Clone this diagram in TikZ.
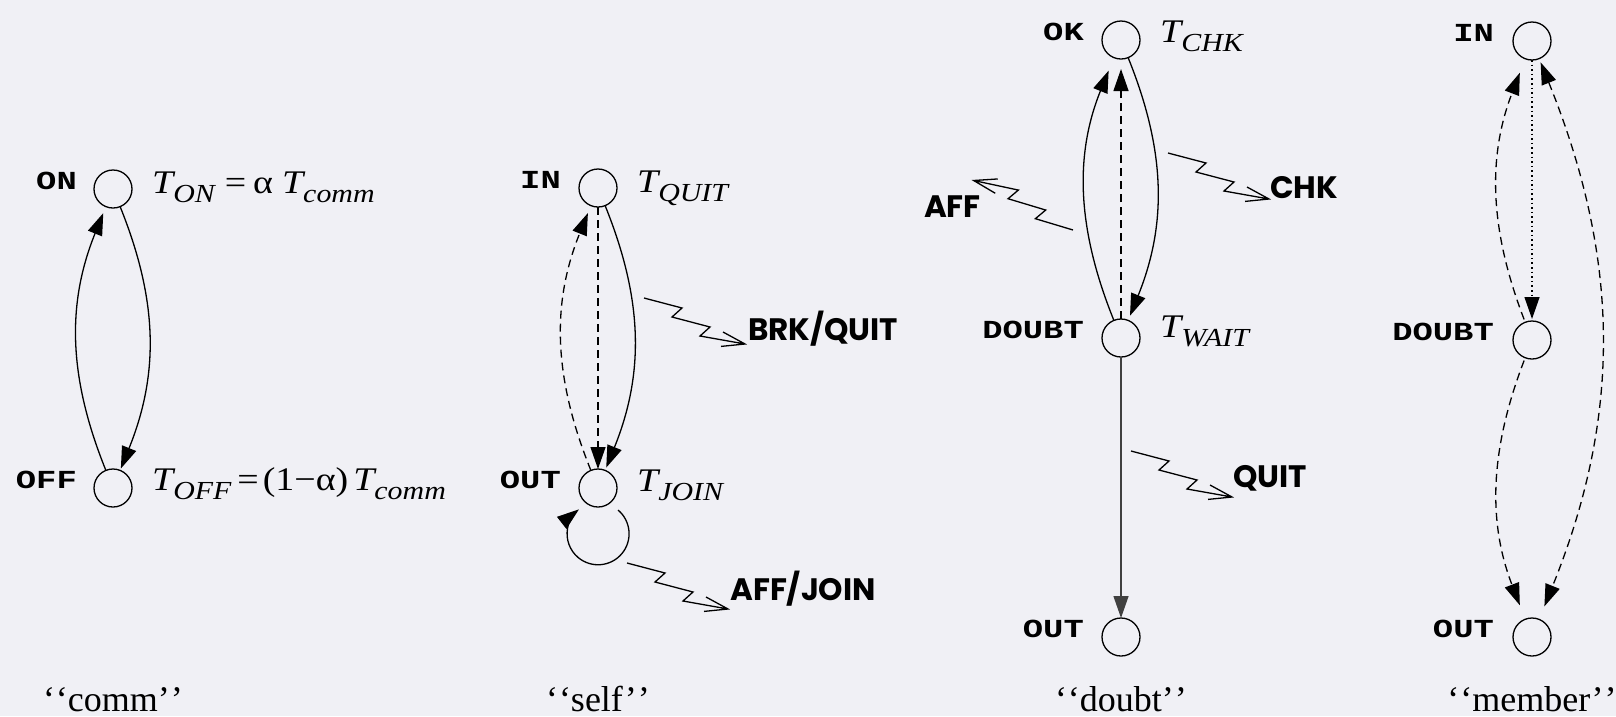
\documentclass[tikz,border=0pt]{standalone}
\usepackage{fontspec}
\setmainfont{Liberation Serif}
\newfontfamily\tsf[FakeStretch=1.15]{Liberation Serif}
\newfontfamily\monob[FakeStretch=1.3]{Liberation Mono}
\newfontfamily\geo{Poppins}
\usetikzlibrary{arrows.meta,calc}
\definecolor{bg}{RGB}{240,240,245}
\newcommand\sbx[1]{\raisebox{-9pt}{\fontsize{26}{26}\selectfont\itshape #1}}
\newcommand\zigzag[2]{\draw[zz, shift={(#1)}, rotate=#2] (0,0) -- (38,-10) -- (28,-19) -- (66,-29) -- (56,-38) -- (101,-46) (79,-34) -- (101,-46) -- (77,-48.4);}
\tikzset{
  state/.style={circle, draw, line width=1.3pt, minimum size=38pt, inner sep=0pt, outer sep=0pt},
  edge/.style={line width=1.3pt, -{Triangle[length=22pt,width=15pt]}},
  dedge/.style={line width=1.3pt, {Triangle[length=22pt,width=15pt]}-{Triangle[length=22pt,width=15pt]}},
  dsh/.style={dash pattern=on 8pt off 5pt},
  dtt/.style={dash pattern=on 1.6pt off 3pt},
  zz/.style={line width=1.3pt, line join=miter},
  lbl/.style={anchor=base east, inner sep=0pt, font=\monob\bfseries\fontsize{26}{26}\selectfont},
  tl/.style={anchor=base west, inner sep=0pt, font=\tsf\fontsize{33}{33}\selectfont},
  gl/.style={inner sep=0pt, font=\geo\bfseries\fontsize{31}{31}\selectfont},
  captxt/.style={anchor=base, inner sep=0pt, text depth=0pt, font=\fontsize{36}{36}\selectfont}
}
\begin{document}
\begin{tikzpicture}[x=1pt,y=1pt]
\fill[bg] (0,0) rectangle (1616,-716);
\useasboundingbox (0,0) rectangle (1616,-716);

% ---------- comm ----------
\node[state] (on) at (113,-189) {};
\node[state] (off) at (113,-488) {};
\node[lbl] (onl) at (77,-189) {ON};
\node[lbl] (offl) at (77,-488) {OFF};
\node[tl] (ton) at (152,-193) {\itshape T\sbx{ON}\hspace{10pt}\upshape=\hspace{7pt}α\hspace{9pt}\itshape T\sbx{comm}};
\node[tl] (toff) at (152,-490) {\itshape T\sbx{OFF}\hspace{6pt}\upshape=\hspace{4pt}(1−α)\hspace{5pt}\itshape T\sbx{comm}};
\draw[edge, shorten >=2pt] (on) to[bend left=22] (off);
\draw[edge, shorten >=7pt] (off) to[bend left=22] (on);
\node[captxt] (c1) at (113,-711) {‘\kern1pt‘comm’\kern1pt’};

% ---------- self ----------
\node[state] (in2) at (598,-188) {};
\node[state] (out2) at (598,-488) {};
\node[lbl] (in2l) at (561,-188) {IN};
\node[lbl] (out2l) at (561,-488) {OUT};
\node[tl] (tquit) at (637,-192) {\itshape T\sbx{QUIT}};
\node[tl] (tjoin) at (637,-491) {\itshape T\sbx{JOIN}};
\draw[edge, dsh, shorten >=8pt] (out2) to[bend left=22] (in2);
\draw[edge, dsh] (in2) -- (out2);
\draw[edge, shorten >=3pt] (in2) to[bend left=22] (out2);
\draw[edge] ($(out2)+(20,-22)$) arc[start angle=50, end angle=-232, radius=31];
\coordinate (zbrk) at (644,-298);
\coordinate (zaffj) at (627,-563);
\zigzag{zbrk}{0}
\zigzag{zaffj}{0}
\node[gl, anchor=base west] (brk) at (748,-340) {BRK/QUIT};
\node[gl, anchor=base west] (affj) at (730,-600) {AFF/JOIN};
\node[captxt] (c2) at (598,-711) {‘\kern1pt‘self’\kern1pt’};

% ---------- doubt ----------
\node[state] (ok) at (1121,-40) {};
\node[state] (dbt) at (1121,-338) {};
\node[state] (out3) at (1121,-637) {};
\node[lbl] (okl) at (1084,-40) {OK};
\node[lbl] (dbtl) at (1084,-338) {DOUBT};
\node[lbl] (out3l) at (1084,-637) {OUT};
\node[tl] (tchk) at (1160,-42) {\itshape T\sbx{CHK}};
\node[tl] (twait) at (1160,-337) {\itshape T\sbx{WAIT}};
\draw[edge, shorten >=14pt] (dbt) to[bend left=22] (ok);
\draw[edge, dsh, shorten >=10pt] (dbt) -- (ok);
\draw[edge, shorten >=5pt] (ok) to[bend left=22] (dbt);
\draw[edge, black!75] (dbt) -- (out3);
\coordinate (zchk) at (1168,-153);
\coordinate (zquit) at (1131,-451);
\coordinate (zaff) at (1073,-230);
\zigzag{zchk}{0}
\zigzag{zquit}{0}
\zigzag{zaff}{178}
\node[gl, anchor=base west] (chk) at (1270,-198) {CHK};
\node[gl, anchor=base west] (quit) at (1233,-487) {QUIT};
\node[gl, anchor=base east] (aff) at (981,-217) {AFF};
\node[captxt] (c3) at (1121,-711) {‘\kern1pt‘doubt’\kern1pt’};

% ---------- member ----------
\node[state] (in4) at (1532,-41) {};
\node[state] (dbt4) at (1532,-340) {};
\node[state] (out4) at (1532,-637) {};
\node[lbl] (in4l) at (1494,-41) {IN};
\node[lbl] (dbt4l) at (1494,-340) {DOUBT};
\node[lbl] (out4l) at (1494,-637) {OUT};
\draw[edge, dsh, shorten >=15pt, shorten <=3pt] (dbt4) to[bend left=21] (in4);
\draw[edge, dtt, shorten >=2pt] (in4) -- (dbt4);
\draw[edge, dsh, shorten >=15pt, shorten <=3pt] (dbt4) to[bend right=21] (out4);
\draw[dedge, dsh, shorten <=4pt, shorten >=14pt] (in4) to[bend left=22] (out4);
\node[captxt] (c4) at (1532,-711) {‘\kern1pt‘member’\kern1pt’};
\end{tikzpicture}
\end{document}
